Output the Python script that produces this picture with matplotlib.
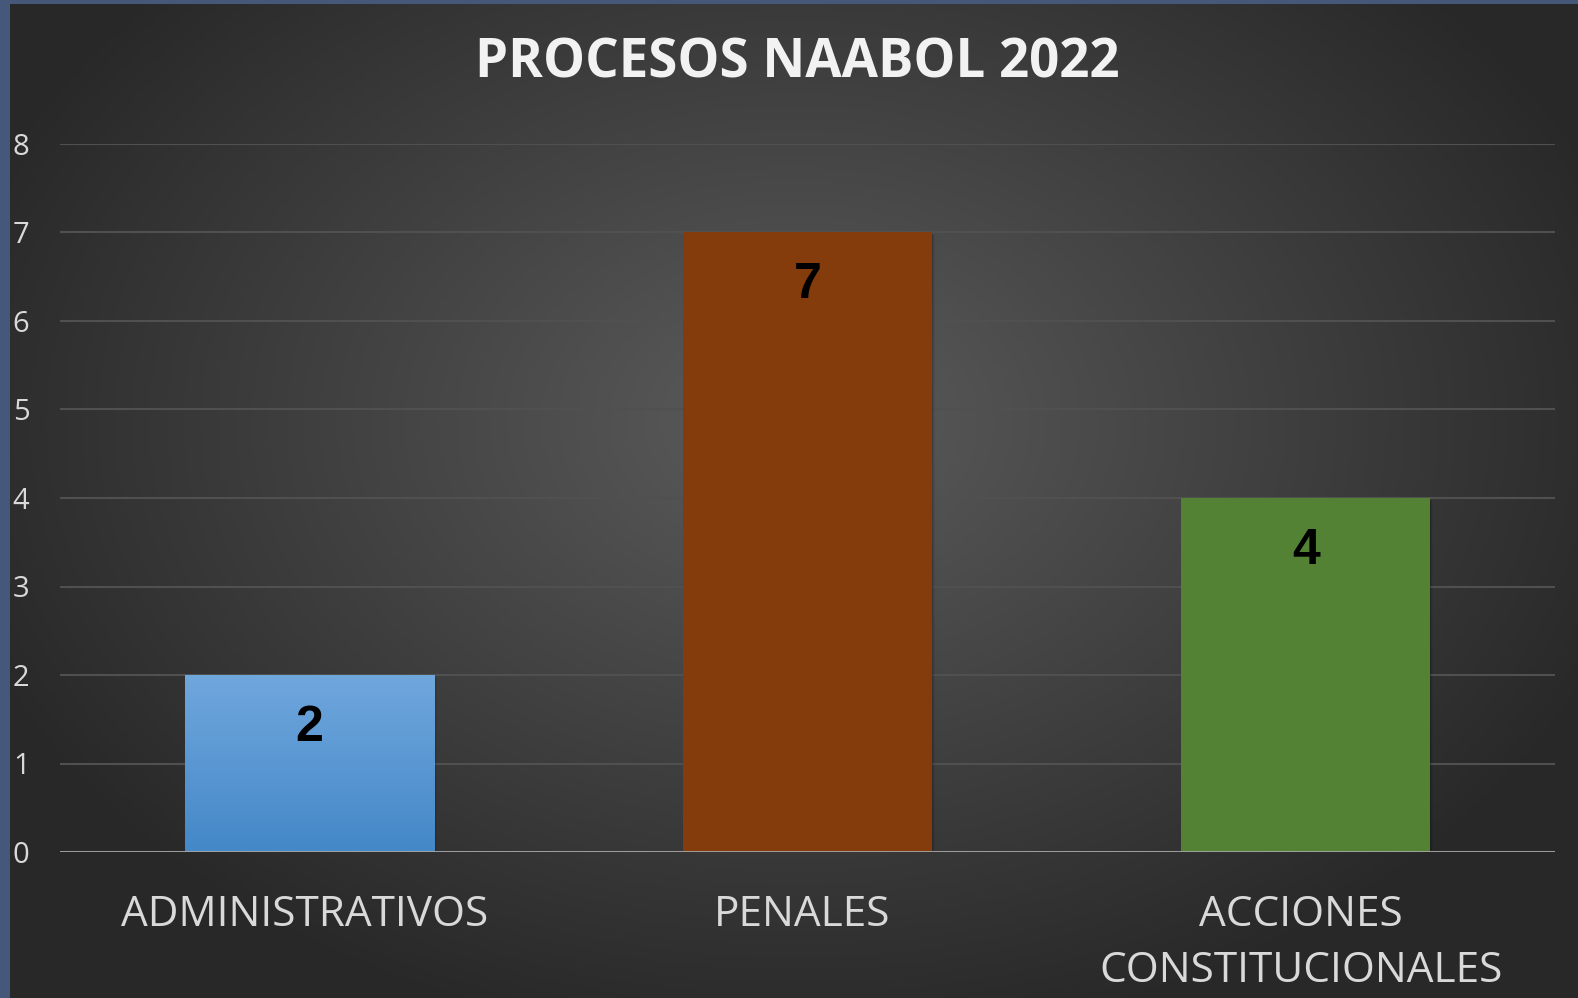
import matplotlib.pyplot as plt
import matplotlib.transforms as mtransforms
import numpy as np

categorias = ["ADMINISTRATIVOS", "PENALES", "ACCIONES\nCONSTITUCIONALES"]
valores = [2, 7, 4]
colores = ["#5b9bd5", "#843c0c", "#548235"]

fig = plt.figure(figsize=(15.78, 9.98), dpi=100)
fig.patch.set_facecolor("#46587a")

# dark radial background of the slide chart
bg = fig.add_axes([10 / 1578, 0, 1 - 10 / 1578, 1 - 4 / 998], zorder=0)
yy, xx = np.mgrid[0:1:300j, 0:1:480j]
r = np.sqrt(((xx - 0.5) / 0.75) ** 2 + ((yy - 0.42) / 0.85) ** 2)
shade = np.clip(0.36 - 0.27 * r, 0.16, 0.36)
bg.imshow(np.dstack([shade] * 3), extent=[0, 1, 0, 1], aspect="auto", origin="upper")
bg.axis("off")

ax = fig.add_axes([60 / 1578, 1 - 852 / 998, 1495 / 1578, (852 - 144) / 998], zorder=1)
ax.patch.set_alpha(0)

x = np.arange(len(categorias))
bars = ax.bar(x, valores, width=0.5, color=colores, zorder=3)

# soft shadows and gradient on the first bar
for b in bars:
    for k, a in enumerate([0.12, 0.08, 0.05]):
        sh = plt.Rectangle((b.get_x() + 0.002 * (k + 1), -0.01 * (k + 1)), b.get_width(),
                           b.get_height(), color="black", alpha=a, zorder=2, lw=0)
        ax.add_patch(sh)
grad = np.linspace(0, 1, 100).reshape(-1, 1)
top = np.array([0x70, 0xa7, 0xdd]) / 255
bot = np.array([0x44, 0x88, 0xc8]) / 255
img = top + (bot - top) * grad[..., None]
b0 = bars[0]
im = ax.imshow(img, extent=[b0.get_x(), b0.get_x() + b0.get_width(), 0, b0.get_height()],
               aspect="auto", origin="upper", zorder=4)
im.set_clip_path(b0)

for xi, v in zip(x, valores):
    ax.annotate(str(v), (xi, v), xytext=(0, -38), textcoords="offset points",
                ha="center", va="center", fontsize=36, fontweight="bold",
                family="Liberation Sans", color="black", zorder=5)

ax.set_xlim(-0.5, 2.5)
ax.set_ylim(0, 8)
ax.set_yticks(range(0, 9))
ax.grid(axis="y", color="#505050", linewidth=1.5, zorder=0)
ax.axhline(0, color="#a6a6a6", linewidth=2, zorder=6)
for s in ax.spines.values():
    s.set_visible(False)
ax.tick_params(axis="y", length=0, pad=22, labelsize=21, labelcolor="#d9d9d9")
ax.tick_params(axis="x", length=0, pad=30, labelsize=30.5, labelcolor="#d9d9d9")
for lab in ax.get_yticklabels():
    lab.set_family("Open Sans")
ax.set_xticks(x)
ax.set_xticklabels(categorias, family="Open Sans", linespacing=1.45, va="top")
shift = mtransforms.ScaledTranslation(-5 / 100, 0, fig.dpi_scale_trans)
for lab in ax.get_xticklabels():
    lab.set_transform(lab.get_transform() + shift)

fig.text(0.505, 1 - 64 / 998, "PROCESOS NAABOL 2022", ha="center", va="center",
         fontsize=38, fontweight="bold", family="Open Sans", color="#f2f2f2")

fig.savefig("out.png", dpi=100, facecolor=fig.get_facecolor())
